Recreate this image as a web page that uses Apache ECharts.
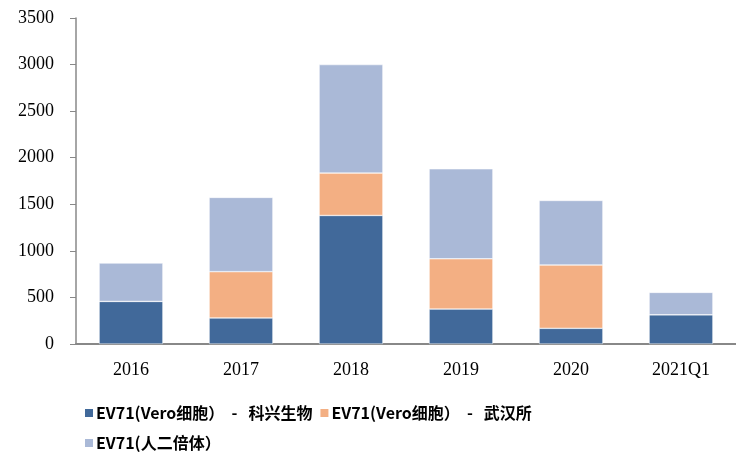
<!DOCTYPE html>
<html>
<head>
<meta charset="utf-8">
<script src="https://cdn.jsdelivr.net/npm/echarts@6/dist/echarts.min.js"></script>
<style>
  html, body { margin: 0; padding: 0; background: #fff; }
  #chart { width: 736px; height: 454px; }
</style>
</head>
<body>
<div id="chart"></div>
<script>
  // 年份
  var categories = ['2016', '2017', '2018', '2019', '2020', '2021Q1'];
  // 各系列数据
  var kexing = [457, 280, 1380, 375, 168, 314];
  var wuhan = [0, 497, 455, 540, 680, 0];
  var diploid = [412, 797, 1165, 966, 693, 240];
  var seriesNames = ['EV71(Vero细胞）  -   科兴生物', 'EV71(Vero细胞）  -   武汉所', 'EV71(人二倍体）'];
  var colors = ['#41699A', '#F3AF83', '#AAB9D7'];

  var myChart = echarts.init(document.getElementById('chart'));
  var serif = '"Liberation Serif", "Times New Roman", serif';

  function makeSeries(name, data, color) {
    return {
      name: name,
      type: 'bar',
      stack: 'total',
      barWidth: '58%',
      data: data,
      itemStyle: { color: color, borderColor: '#fff', borderWidth: 0.5 }
    };
  }

  myChart.setOption({
    animation: false,
    color: colors,
    grid: { left: 76, right: 0, top: 18, bottom: 110 },
    legend: {
      left: 78,
      top: 396,
      width: 520,
      itemWidth: 10,
      itemHeight: 10,
      itemGap: 6,
      icon: 'rect',
      textStyle: {
        fontFamily: '"Noto Sans CJK SC", sans-serif',
        fontSize: 16,
        fontWeight: 'bold',
        color: '#000',
        padding: [0, 0, 0, -3],
        lineHeight: 24
      },
      data: seriesNames
    },
    xAxis: {
      type: 'category',
      data: categories,
      axisLine: { lineStyle: { color: '#888', width: 2 } },
      axisTick: { show: false },
      axisLabel: { fontFamily: serif, fontSize: 18, color: '#000', margin: 17 }
    },
    yAxis: {
      type: 'value',
      min: 0,
      max: 3500,
      interval: 500,
      splitLine: { show: false },
      axisLine: { show: true, lineStyle: { color: '#888', width: 1.5 } },
      axisTick: { show: true, length: 6, lineStyle: { color: '#888' } },
      axisLabel: {
        fontFamily: serif, fontSize: 18, color: '#000', margin: 22,
        formatter: function (v) { return String(v); }
      }
    },
    series: [
      makeSeries(seriesNames[0], kexing, colors[0]),
      makeSeries(seriesNames[1], wuhan, colors[1]),
      makeSeries(seriesNames[2], diploid, colors[2])
    ]
  });
</script>
</body>
</html>
